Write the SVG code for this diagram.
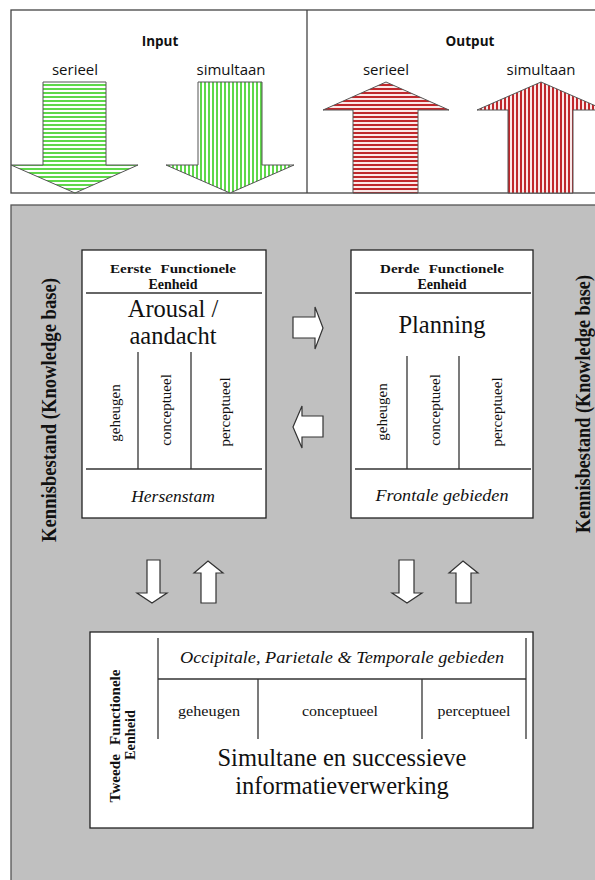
<svg xmlns="http://www.w3.org/2000/svg" width="595" height="880" viewBox="0 0 595 880">
<style>
.sans{font-family:"Open Sans","Noto Sans","Liberation Sans",sans-serif;fill:#111}
.ser{font-family:"Liberation Serif","Times New Roman",serif;fill:#111}
.b{font-weight:bold}
.i{font-style:italic}
.box{fill:#fff;stroke:#222;stroke-width:1.3}
.ln{stroke:#333;stroke-width:1.3;fill:none}
.warr{fill:#fff;stroke:#333;stroke-width:1.2}
</style>
<defs>
<pattern id="gh" patternUnits="userSpaceOnUse" width="4" height="4"><rect width="4" height="4" fill="#fff"/><rect width="4" height="2" fill="#5fd84a"/></pattern>
<pattern id="gv" patternUnits="userSpaceOnUse" width="4" height="4"><rect width="4" height="4" fill="#fff"/><rect width="2" height="4" fill="#5fd84a"/></pattern>
<pattern id="rh" patternUnits="userSpaceOnUse" width="4" height="4"><rect width="4" height="4" fill="#fbe8e8"/><rect width="4" height="2" fill="#c0282c"/></pattern>
<pattern id="rv" patternUnits="userSpaceOnUse" width="4" height="4"><rect width="4" height="4" fill="#fbe8e8"/><rect width="2" height="4" fill="#c0282c"/></pattern>
</defs>

<g id="io-panel">
<rect x="11" y="10" width="600" height="183" fill="#fff" stroke="#444" stroke-width="1.3"/>
<line x1="307" y1="10" x2="307" y2="193" stroke="#444" stroke-width="1.3"/>
<text class="sans b" x="160" y="46" font-size="13.5" text-anchor="middle">Input</text>
<text class="sans b" x="470" y="46" font-size="13.5" text-anchor="middle">Output</text>
<text class="sans" x="75" y="75" font-size="15" text-anchor="middle">serieel</text>
<text class="sans" x="231" y="75" font-size="15" text-anchor="middle">simultaan</text>
<text class="sans" x="386" y="75" font-size="15" text-anchor="middle">serieel</text>
<text class="sans" x="541" y="75" font-size="15" text-anchor="middle">simultaan</text>
</g>
<g id="input-serieel"><path d="M43,82 H106 V165 H138 L75,193 L11,165 H43 Z" fill="url(#gh)" stroke="#555" stroke-width="1"/></g>
<g id="input-simultaan"><path d="M198,82 H262 V165 H294 L230,193 L166,165 H198 Z" fill="url(#gv)" stroke="#555" stroke-width="1"/></g>
<g id="output-serieel"><path d="M386,82 L449,110 H418 V193 H353 V110 H323 Z" fill="url(#rh)" stroke="#555" stroke-width="1"/></g>
<g id="output-simultaan"><path d="M541,82 L605,110 H573 V193 H508 V110 H477 Z" fill="url(#rv)" stroke="#555" stroke-width="1"/></g>

<g id="knowledge-panel">
<rect x="11" y="205" width="600" height="700" fill="#c0c0c0" stroke="#555" stroke-width="1.3"/>
<text class="ser b" transform="translate(56,410) rotate(-90)" font-size="21" text-anchor="middle" textLength="264" lengthAdjust="spacingAndGlyphs">Kennisbestand (Knowledge base)</text>
<text class="ser b" transform="translate(590,404) rotate(-90)" font-size="21" text-anchor="middle" textLength="258" lengthAdjust="spacingAndGlyphs">Kennisbestand (Knowledge base)</text>
</g>

<g id="eerste">
<rect class="box" x="82" y="250" width="184" height="268"/>
<line class="ln" x1="86" y1="293" x2="262" y2="293"/>
<text class="ser b" x="173" y="273" font-size="13.5" text-anchor="middle" word-spacing="5" textLength="126" lengthAdjust="spacingAndGlyphs">Eerste Functionele</text>
<text class="ser b" x="173" y="289" font-size="14" text-anchor="middle">Eenheid</text>
<text class="ser" x="173" y="317" font-size="24.5" text-anchor="middle">Arousal /</text>
<text class="ser" x="173" y="344" font-size="24.5" text-anchor="middle">aandacht</text>
<line class="ln" x1="138" y1="352" x2="138" y2="469"/>
<line class="ln" x1="191" y1="352" x2="191" y2="469"/>
<line class="ln" x1="86" y1="469" x2="262" y2="469"/>
<text class="ser" transform="translate(120,413) rotate(-90)" font-size="15" text-anchor="middle">geheugen</text>
<text class="ser" transform="translate(171,410) rotate(-90)" font-size="15" text-anchor="middle">conceptueel</text>
<text class="ser" transform="translate(230,412) rotate(-90)" font-size="15" text-anchor="middle">perceptueel</text>
<text class="ser i" x="173" y="502" font-size="17.5" text-anchor="middle">Hersenstam</text>
</g>

<g id="derde">
<rect class="box" x="351" y="250" width="182" height="268"/>
<line class="ln" x1="355" y1="293" x2="531" y2="293"/>
<text class="ser b" x="442" y="273" font-size="13.5" text-anchor="middle" word-spacing="5" textLength="124" lengthAdjust="spacingAndGlyphs">Derde Functionele</text>
<text class="ser b" x="442" y="289" font-size="14" text-anchor="middle">Eenheid</text>
<text class="ser" x="442" y="333" font-size="24.5" text-anchor="middle">Planning</text>
<line class="ln" x1="407" y1="356" x2="407" y2="469"/>
<line class="ln" x1="459" y1="356" x2="459" y2="469"/>
<line class="ln" x1="355" y1="469" x2="531" y2="469"/>
<text class="ser" transform="translate(387,412) rotate(-90)" font-size="15" text-anchor="middle">geheugen</text>
<text class="ser" transform="translate(440,410) rotate(-90)" font-size="15" text-anchor="middle">conceptueel</text>
<text class="ser" transform="translate(502,412) rotate(-90)" font-size="15" text-anchor="middle">perceptueel</text>
<text class="ser i" x="442" y="501" font-size="17.5" text-anchor="middle" textLength="133" lengthAdjust="spacingAndGlyphs">Frontale gebieden</text>
</g>

<g id="tweede">
<rect class="box" x="90" y="632" width="443" height="196"/>
<line class="ln" x1="158" y1="638" x2="158" y2="739"/>
<line class="ln" x1="526" y1="638" x2="526" y2="739"/>
<line class="ln" x1="158" y1="679" x2="526" y2="679"/>
<line class="ln" x1="258" y1="679" x2="258" y2="739"/>
<line class="ln" x1="422" y1="679" x2="422" y2="739"/>
<text class="ser b" transform="translate(120,736) rotate(-90)" font-size="14" text-anchor="middle" word-spacing="5" textLength="133" lengthAdjust="spacingAndGlyphs">Tweede Functionele</text>
<text class="ser b" transform="translate(135,735) rotate(-90)" font-size="14" text-anchor="middle" textLength="50" lengthAdjust="spacingAndGlyphs">Eenheid</text>
<text class="ser i" x="342" y="663" font-size="17" text-anchor="middle" textLength="324" lengthAdjust="spacingAndGlyphs">Occipitale, Parietale &amp; Temporale gebieden</text>
<text class="ser" x="209" y="716" font-size="15" text-anchor="middle" textLength="62" lengthAdjust="spacingAndGlyphs">geheugen</text>
<text class="ser" x="340" y="716" font-size="15" text-anchor="middle" textLength="76" lengthAdjust="spacingAndGlyphs">conceptueel</text>
<text class="ser" x="474" y="716" font-size="15" text-anchor="middle" textLength="73" lengthAdjust="spacingAndGlyphs">perceptueel</text>
<text class="ser" x="342" y="766" font-size="24.5" text-anchor="middle">Simultane en successieve</text>
<text class="ser" x="342" y="794" font-size="24.5" text-anchor="middle">informatieverwerking</text>
</g>

<g id="connectors">
<path class="warr" d="M293,317 H315 V307 L323,328 L315,349 V338 H293 Z"/>
<path class="warr" d="M323,416 H302 V406 L293,427 L302,448 V437 H323 Z"/>
<path class="warr" d="M147,560 H160 V593 H167 L152,603 L137,593 H147 Z"/>
<path class="warr" d="M208,561 L223,573 H216 V603 H201 V573 H194 Z"/>
<path class="warr" d="M399,560 H414 V593 H422 L407,603 L392,593 H399 Z"/>
<path class="warr" d="M463,561 L478,573 H471 V603 H456 V573 H449 Z"/>
</g>
</svg>
